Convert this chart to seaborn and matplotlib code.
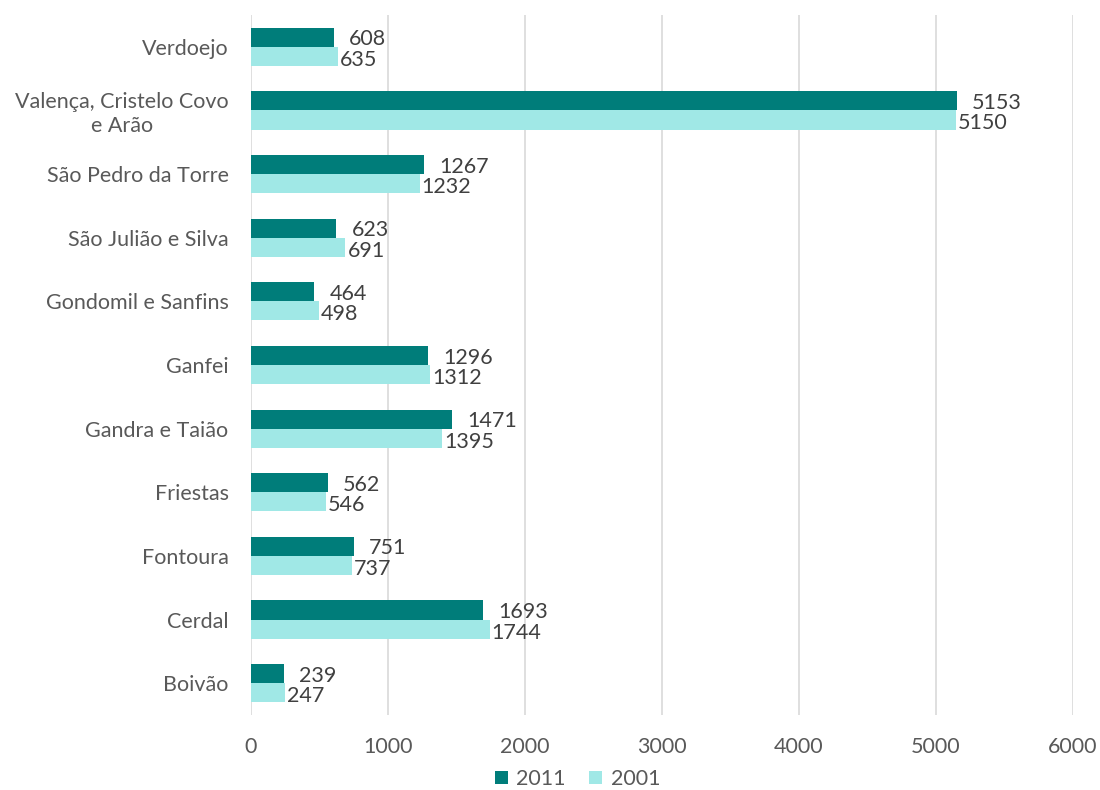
import matplotlib
matplotlib.use("Agg")
import matplotlib.pyplot as plt
import seaborn as sns
import pandas as pd
from matplotlib.patches import Patch

categories = ["Verdoejo", "Valença, Cristelo Covo\ne Arão", "São Pedro da Torre",
              "São Julião e Silva", "Gondomil e Sanfins", "Ganfei", "Gandra e Taião",
              "Friestas", "Fontoura", "Cerdal", "Boivão"]
values_2011 = [608, 5153, 1267, 623, 464, 1296, 1471, 562, 751, 1693, 239]
values_2001 = [635, 5150, 1232, 691, 498, 1312, 1395, 546, 737, 1744, 247]
years = ["2011", "2001"]
x_ticks = [0, 1000, 2000, 3000, 4000, 5000, 6000]

colors = {"2011": "#007D7A", "2001": "#A0E8E6"}
text_color = "#595959"
fs = 15.5

sns.set_theme(style="white")
plt.rcParams["font.family"] = ["Lato", "DejaVu Sans"]

df = pd.DataFrame({
    "freguesia": categories * 2,
    "ano": ["2011"] * len(categories) + ["2001"] * len(categories),
    "pop": values_2011 + values_2001,
})

fig = plt.figure(figsize=(11, 7.9), dpi=100)
ax = fig.add_axes([0.228, 0.095, 0.747, 0.886])

sns.barplot(data=df, y="freguesia", x="pop", hue="ano", hue_order=years,
            order=categories, orient="h", palette=colors, width=0.6,
            saturation=1, linewidth=0, ax=ax, legend=False, zorder=3)

ax.set_xlim(0, 6000)
ax.set_xticks(x_ticks)
ax.set_xticklabels([str(t) for t in x_ticks])
ax.xaxis.grid(True, color="#D9D9D9", linewidth=1.2, zorder=0)
ax.set_axisbelow(True)
for s in ax.spines.values():
    s.set_visible(False)
ax.set_xlabel("")
ax.set_ylabel("")
ax.tick_params(axis="both", length=0, labelsize=fs, colors=text_color)
ax.tick_params(axis="y", pad=16)
ax.tick_params(axis="x", pad=16)
for lbl in ax.get_yticklabels():
    lbl.set_multialignment("center")
    lbl.set_linespacing(1.2)

# value labels: 2011 label shifted right, 2001 label close to the bar end
for container, year in zip(ax.containers, years):
    pad = 11 if year == "2011" else 1.5
    texts = ax.bar_label(container, labels=[f"{int(v)}" for v in container.datavalues],
                         padding=pad, fontsize=fs, color="#404040")
    shift = 1.5 if year == "2011" else 2.5
    for t in texts:
        x, y = t.get_position()
        t.set_position((x, y - shift))

handles = [Patch(facecolor=colors[y], edgecolor="none", label=y) for y in years]
fig.legend(handles=handles, loc="center", bbox_to_anchor=(0.525, 0.014),
           ncol=2, frameon=False, fontsize=fs, handlelength=0.6, handleheight=0.6,
           handletextpad=0.4, columnspacing=1.1, labelcolor=text_color)

fig.savefig("out.png", dpi=100)
